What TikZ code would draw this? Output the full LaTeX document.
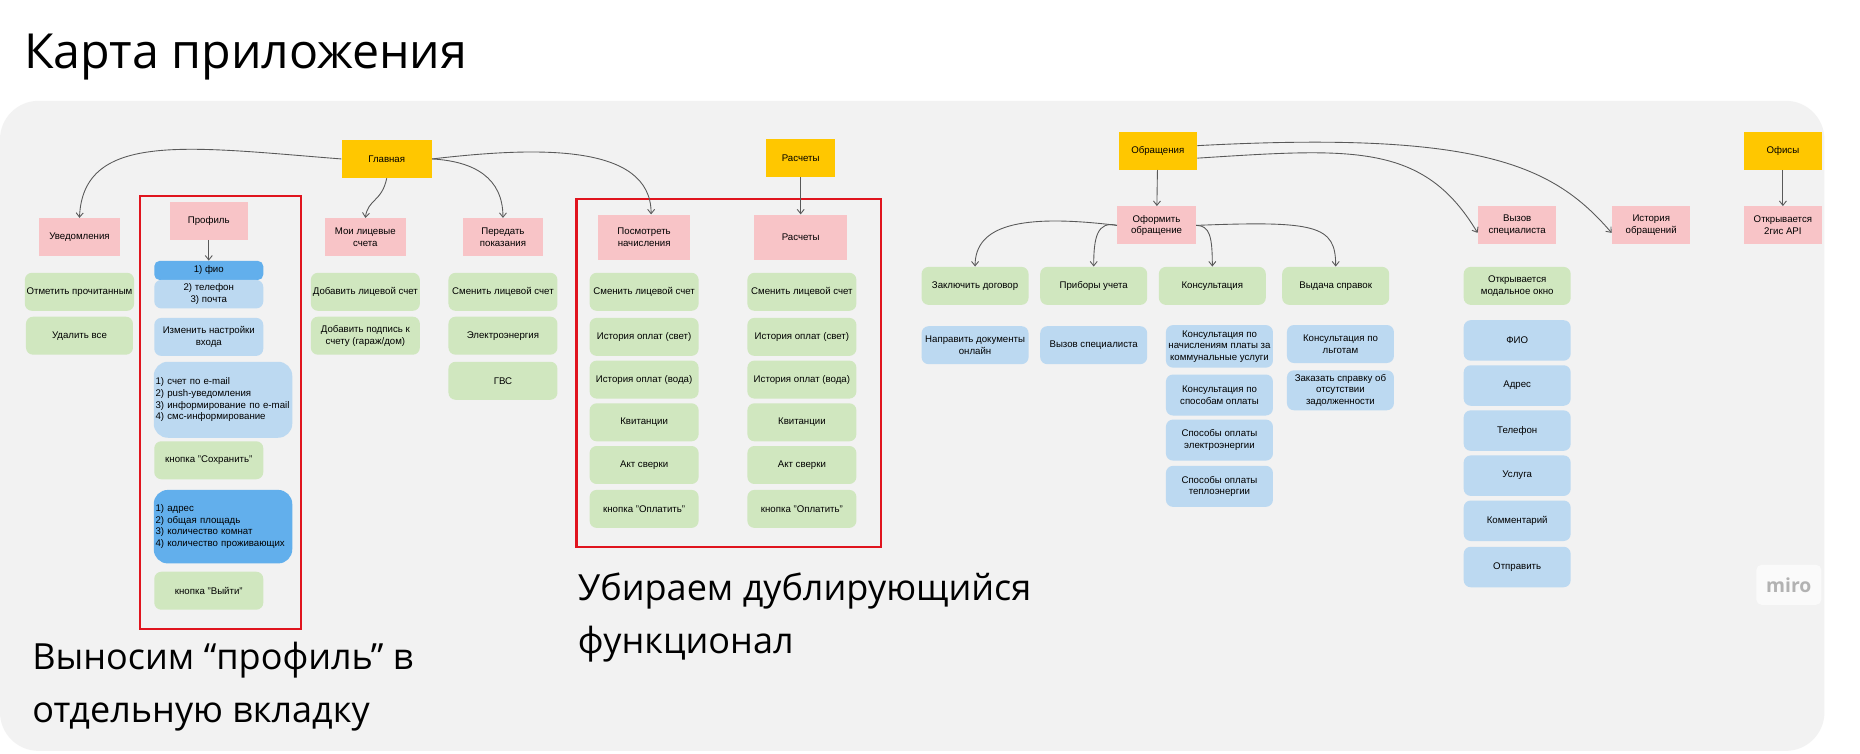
\documentclass[tikz,border=0pt]{standalone}
\usepackage{fontspec}
\setmainfont{Liberation Sans}
\newfontfamily\titlefont{Open Sans}
\usetikzlibrary{arrows.meta}
\definecolor{mapyellow}{HTML}{FFC700}
\definecolor{mappink}{HTML}{F8C4C7}
\definecolor{mapgreen}{HTML}{D0E7BF}
\definecolor{mapblue}{HTML}{BCD9F1}
\definecolor{mapdark}{HTML}{62AFEC}
\definecolor{mapred}{HTML}{E0141E}
\definecolor{mapbg}{HTML}{F2F2F2}
\tikzset{
  box/.style={font=\fontsize{5.5}{6.6}\selectfont, align=center, inner sep=1pt, minimum height=0.76cm},
  main/.style={box, fill=mapyellow, minimum width=#1},
  page/.style={box, fill=mappink, minimum width=#1},
  item/.style={box, fill=mapgreen, rounded corners=4pt, minimum width=#1},
  info/.style={box, fill=mapblue, rounded corners=4pt, minimum width=#1},
  link/.style={draw=black!65, line width=0.5pt, -{Straight Barb[length=2.5pt,width=4pt]}},
  frame/.style={draw=mapred, line width=1.2pt},
  note/.style={font=\titlefont\fontsize{20.5}{30}\selectfont, anchor=north west, align=left}
}
\begin{document}
\begin{tikzpicture}[x=0.023724cm, y=-0.023724cm]
	\useasboundingbox (0,0) rectangle (1568,635);
	\fill[white] (0,0) rectangle (1568,635);
	\fill[mapbg, rounded corners=22pt] (0,85) rectangle (1538,633);
	\node[anchor=west, font=\titlefont\fontsize{27.5}{32}\selectfont] (title) at (15,48) {Карта приложения};

	% main screens
	\node[main=1.8cm] (home) at (326,134) {Главная};
	\node[main=1.38cm] (pay) at (675,133) {Расчеты};
	\node[main=1.57cm] (req) at (976,127) {Обращения};
	\node[main=1.57cm] (office) at (1503,127) {Офисы};

	% pages
	\node[page=1.61cm] (notif) at (67,200) {Уведомления};
	\node[page=1.57cm] (prof) at (176,186) {Профиль};
	\node[page=1.61cm] (acc) at (308,200) {Мои лицевые\\счета};
	\node[page=1.61cm] (meter) at (424,200) {Передать\\показания};
	\node[page=1.85cm, minimum height=0.9cm] (charge) at (543,200) {Посмотреть\\начисления};
	\node[page=1.85cm, minimum height=0.9cm] (paypg) at (675,200) {Расчеты};
	\node[page=1.57cm] (form) at (975,190) {Оформить\\обращение};
	\node[page=1.57cm] (call) at (1279,190) {Вызов\\специалиста};
	\node[page=1.57cm] (hist) at (1392,190) {История\\обращений};
	\node[page=1.57cm] (api) at (1503,190) {Открывается\\2гис API};

	% notifications
	\node[item=2.14cm] (n1) at (67,246) {Отметить прочитанным};
	\node[item=2.14cm] (n2) at (67,283) {Удалить все};

	% profile
	\node[box, fill=mapdark, rounded corners=3pt, minimum width=2.18cm, minimum height=0.38cm] (p1) at (176,228) {1) фио};
	\node[info=2.18cm, minimum height=0.57cm] (p2) at (176,248) {2) телефон\\3) почта};
	\node[info=2.18cm] (p3) at (176,284) {Изменить настройки\\входа};
	\node[info=2.75cm, minimum height=1.52cm, rounded corners=8pt, align=left, text width=2.7cm] (p4) at (188,337) {1) счет по e-mail\\2) push-уведомления\\3) информирование по e-mail\\4) смс-информирование};
	\node[item=2.18cm] (p5) at (176,388) {кнопка "Сохранить"};
	\node[box, fill=mapdark, rounded corners=8pt, minimum width=2.75cm, minimum height=1.47cm, align=left, text width=2.7cm] (p6) at (188,444) {1) адрес\\2) общая площадь\\3) количество комнат\\4) количество проживающих};
	\node[item=2.18cm] (p7) at (176,498) {кнопка "Выйти"};

	% accounts and meters
	\node[item=2.18cm] (a1) at (308,246) {Добавить лицевой счет};
	\node[item=2.18cm] (a2) at (308,283) {Добавить подпись к\\счету (гараж/дом)};
	\node[item=2.18cm] (m1) at (424,246) {Сменить лицевой счет};
	\node[item=2.18cm] (m2) at (424,283) {Электроэнергия};
	\node[item=2.18cm] (m3) at (424,321) {ГВС};

	% payments, twice
	\foreach \cx/\nm in {543/c, 676/r}{
		\node[item=2.18cm] (\nm1) at (\cx,246) {Сменить лицевой счет};
		\node[item=2.18cm] (\nm2) at (\cx,284) {История оплат (свет)};
		\node[item=2.18cm] (\nm3) at (\cx,320) {История оплат (вода)};
		\node[item=2.18cm] (\nm4) at (\cx,356) {Квитанции};
		\node[item=2.18cm] (\nm5) at (\cx,392) {Акт сверки};
		\node[item=2.18cm] (\nm6) at (\cx,429) {кнопка "Оплатить"};
	}

	% requests
	\node[item=2.14cm] (f1) at (822,241) {Заключить договор};
	\node[item=2.14cm] (f2) at (922,241) {Приборы учета};
	\node[item=2.14cm] (f3) at (1022,241) {Консультация};
	\node[item=2.14cm] (f4) at (1126,241) {Выдача справок};
	\node[info=2.14cm] (g1) at (822,291) {Направить документы\\онлайн};
	\node[info=2.14cm] (g2) at (922,291) {Вызов специалиста};
	\node[info=2.14cm, minimum height=0.85cm] (g3) at (1028,292) {Консультация по\\начислениям платы за\\коммунальные услуги};
	\node[info=2.14cm, minimum height=0.82cm] (g4) at (1028,333) {Консультация по\\способам оплаты};
	\node[info=2.14cm, minimum height=0.82cm] (g5) at (1028,371) {Способы оплаты\\электроэнергии};
	\node[info=2.14cm, minimum height=0.82cm] (g6) at (1028,410) {Способы оплаты\\теплоэнергии};
	\node[info=2.14cm] (g7) at (1130,290) {Консультация по\\льготам};
	\node[info=2.14cm, minimum height=0.8cm] (g8) at (1130,329) {Заказать справку об\\отсутствии\\задолженности};

	% specialist call form
	\node[item=2.14cm] (s0) at (1279,241) {Открывается\\модальное окно};
	\foreach \i/\yy/\txt in {1/287/ФИО, 2/325/Адрес, 3/363/Телефон, 4/401/Услуга, 5/439/Комментарий, 6/478/Отправить}
		\node[info=2.14cm, minimum height=0.81cm] (s\i) at (1279,\yy) {\txt};

	% frames and notes
	\draw[frame] (118,165) rectangle (254,530);
	\draw[frame] (486,168) rectangle (743,461);
	\node[note] (n-prof) at (22,536) {Выносим “профиль” в\\отдельную вкладку};
	\node[note] (n-dup) at (482,478) {Убираем дублирующийся\\функционал};
	\node[fill=white!60!mapbg, rounded corners=3pt, text=black!30, font=\titlefont\bfseries\fontsize{11}{12}\selectfont, minimum width=1.3cm, minimum height=0.8cm] (logo) at (1508,493) {miro};

	% links
	\draw[link] (home.west) .. controls (160,124) and (70,110) .. (notif.north);
	\draw[link] (home.south) .. controls (322,170) and (310,168) .. (acc.north);
	\draw[link] (home.east) .. controls (400,136) and (424,150) .. (meter.north);
	\draw[link] (home.east) .. controls (450,124) and (549,120) .. ([xshift=0.14cm]charge.north);
	\draw[link] (pay) -- (paypg);
	\draw[link] (prof) -- (p1);
	\draw[link] (req) -- (form);
	\draw[link] (office) -- (api);
	\draw[link] ([yshift=-0.15cm]req.east) .. controls (1140,125) and (1200,120) .. ([yshift=-0.15cm]call.west);
	\draw[link] ([yshift=0.1cm]req.east) .. controls (1250,110) and (1310,140) .. ([yshift=-0.15cm]hist.west);
	\draw[link] (form.west) .. controls (860,180) and (822,190) .. (f1.north);
	\draw[link] (form.west) .. controls (925,186) and (922,200) .. (f2.north);
	\draw[link] (form.east) .. controls (1020,190) and (1022,200) .. (f3.north);
	\draw[link] (form.east) .. controls (1110,186) and (1126,190) .. (f4.north);
\end{tikzpicture}
\end{document}
